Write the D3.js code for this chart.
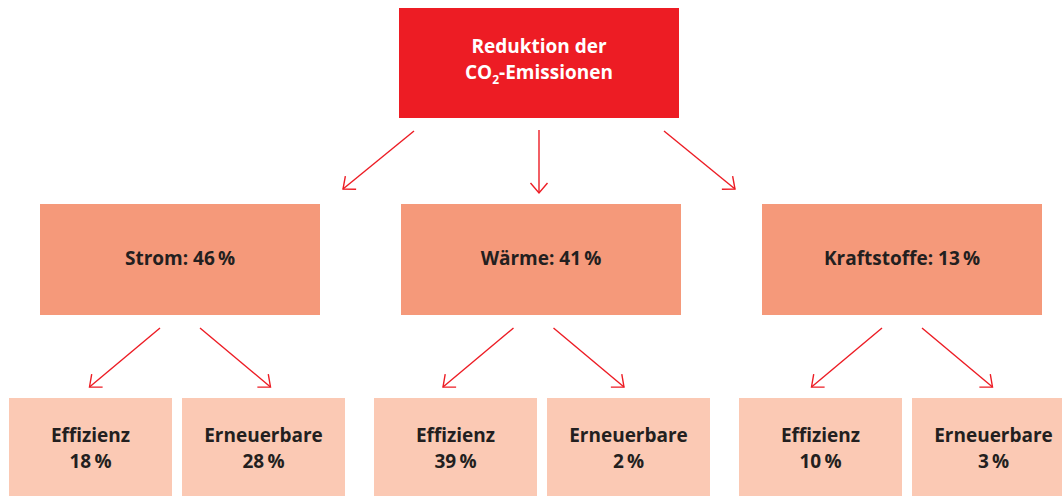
<!DOCTYPE html>
<html lang="de">
<head>
    <meta charset="UTF-8">
    <title>Reduktion der CO2-Emissionen</title>
    <script src="https://cdnjs.cloudflare.com/ajax/libs/d3/7.8.5/d3.min.js"></script>
    <style>
        body { margin: 0; background: #fff; }
        svg text { font-family: "Open Sans", "Noto Sans", sans-serif; font-weight: 700; }
    </style>
</head>
<body>
<svg id="chart"></svg>
<script>
// data
const rootLabel = ["Reduktion der", "CO", "2", "-Emissionen"];
const sectors = ["Strom", "Wärme", "Kraftstoffe"];
const sectorShares = [46, 41, 13];
const subLabels = ["Effizienz", "Erneuerbare"];
const effizienzShares = [18, 39, 10];
const erneuerbareShares = [28, 2, 3];

const W = 1062, H = 496;
const RED = "#ed1c24", MID = "#f5997a", LIGHT = "#fbc9b4", TEXT = "#231f20";
const FS = "19px";

const svg = d3.select("#chart").attr("width", W).attr("height", H);

svg.append("defs").append("marker")
    .attr("id", "head")
    .attr("viewBox", "-12 -10 14 20")
    .attr("refX", 0).attr("refY", 0)
    .attr("markerUnits", "userSpaceOnUse")
    .attr("markerWidth", 14).attr("markerHeight", 20)
    .attr("orient", "auto")
    .append("path")
    .attr("d", "M -10 -8.5 L 0 0 L -10 8.5")
    .attr("fill", "none")
    .attr("stroke", RED)
    .attr("stroke-width", 1.4);

// scales
const midX = d3.scalePoint().domain(sectors).range([180, 902]);
const lowX = d3.scalePoint().domain(sectors).range([177, 907]);
const subX = d3.scaleBand().domain(subLabels).range([-168, 168]).paddingInner(10 / 173);
const rootX = 539;
// small horizontal nudge of the lower arrow pairs (as drawn in the original)
const arrowShift = { "Strom": 0, "Wärme": -7.5, "Kraftstoffe": 0 };

// root box
svg.append("rect")
    .attr("x", rootX - 140).attr("y", 8)
    .attr("width", 280).attr("height", 110)
    .attr("fill", RED);
svg.append("text")
    .attr("x", rootX).attr("y", 53)
    .attr("text-anchor", "middle")
    .attr("fill", "#fff").style("font-size", FS)
    .text(rootLabel[0]);
const co2 = svg.append("text")
    .attr("x", rootX).attr("y", 79)
    .attr("text-anchor", "middle")
    .attr("fill", "#fff").style("font-size", FS);
co2.append("tspan").text(rootLabel[1]);
co2.append("tspan").attr("dy", 5).style("font-size", "12px").text(rootLabel[2]);
co2.append("tspan").attr("dy", -5).text(rootLabel[3]);

// arrows root -> sectors
const topArrows = [[-125, 131, -196, 189], [0, 130, 0, 193], [125, 131, 196, 189]];
svg.append("g").selectAll("line")
    .data(topArrows)
    .join("line")
    .attr("x1", d => rootX + d[0]).attr("y1", d => d[1])
    .attr("x2", d => rootX + d[2]).attr("y2", d => d[3])
    .attr("stroke", RED).attr("stroke-width", 1.4)
    .attr("marker-end", "url(#head)");

// sector boxes
const mid = svg.append("g").selectAll("g")
    .data(sectors.map((s, i) => ({ name: s, share: sectorShares[i] })))
    .join("g")
    .attr("transform", d => `translate(${midX(d.name)},0)`);
mid.append("rect")
    .attr("x", -140).attr("y", 204)
    .attr("width", 280).attr("height", 111)
    .attr("fill", MID);
mid.append("text")
    .attr("y", 265)
    .attr("text-anchor", "middle")
    .attr("fill", TEXT).style("font-size", FS)
    .text(d => `${d.name}: ${d.share}\u2009%`);

// arrows sectors -> sub
mid.selectAll("line")
    .data(d => [[-20, -90.5], [20, 90.5]].map(a => a.map(v => v + arrowShift[d.name])))
    .join("line")
    .attr("x1", d => d[0]).attr("y1", 328)
    .attr("x2", d => d[1]).attr("y2", 387)
    .attr("stroke", RED).attr("stroke-width", 1.4)
    .attr("marker-end", "url(#head)");

// sub boxes
const low = svg.append("g").selectAll("g")
    .data(sectors.map((s, i) => ({ name: s, vals: [effizienzShares[i], erneuerbareShares[i]] })))
    .join("g")
    .attr("transform", d => `translate(${lowX(d.name)},0)`);
const cell = low.selectAll("g")
    .data(d => subLabels.map((l, j) => ({ label: l, value: d.vals[j] })))
    .join("g")
    .attr("transform", d => `translate(${subX(d.label)},0)`);
cell.append("rect")
    .attr("x", 0).attr("y", 398)
    .attr("width", subX.bandwidth()).attr("height", 110)
    .attr("fill", LIGHT);
cell.append("text")
    .attr("x", subX.bandwidth() / 2).attr("y", 442)
    .attr("text-anchor", "middle")
    .attr("fill", TEXT).style("font-size", FS)
    .text(d => d.label);
cell.append("text")
    .attr("x", subX.bandwidth() / 2).attr("y", 468)
    .attr("text-anchor", "middle")
    .attr("fill", TEXT).style("font-size", FS)
    .text(d => `${d.value}\u2009%`);
</script>
</body>
</html>
